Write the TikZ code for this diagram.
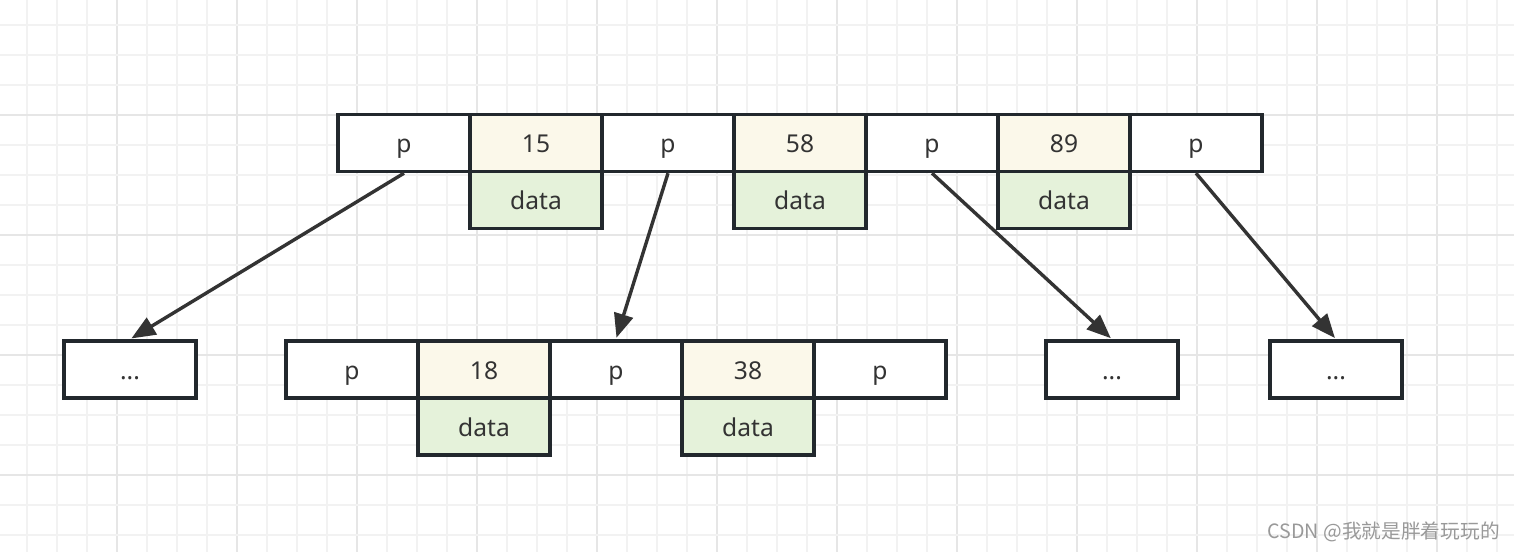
\documentclass[tikz,border=0pt]{standalone}
\usepackage{fontspec}
\setmainfont{Noto Sans}
\newfontfamily\cjkfont{Noto Sans CJK SC}
\usetikzlibrary{arrows.meta}
\definecolor{edgecol}{HTML}{22282D}
\definecolor{txtcol}{HTML}{333333}
\definecolor{keyfill}{HTML}{FBF8EA}
\definecolor{datafill}{HTML}{E5F2DA}
\definecolor{gridminor}{HTML}{F2F2F2}
\definecolor{gridmajor}{HTML}{E6E6E6}
\definecolor{arrcol}{HTML}{333333}
\definecolor{wmcol}{HTML}{999999}
\begin{document}
\begin{tikzpicture}[x=0.025cm,y=-0.025cm,
  cell/.style={draw=edgecol, line width=0.085cm, minimum width=3.3cm, minimum height=1.425cm,
    inner sep=0pt, text height=0.5cm, text depth=0.025cm, text=txtcol,
    font=\fontsize{17.5}{20}\selectfont},
  ptr/.style={cell, fill=white},
  key/.style={cell, fill=keyfill},
  dat/.style={cell, fill=datafill},
  link/.style={draw=arrcol, line width=0.085cm, -{Triangle[length=0.6cm,width=0.48cm]}, shorten >=0.04cm}]
\useasboundingbox (0,0) rectangle (1514,552);
\fill[white] (0,0) rectangle (1514,552);
% grid
\foreach \k in {0,...,49} {
  \pgfmathtruncatemacro{\xx}{27+30*\k}
  \pgfmathtruncatemacro{\mm}{mod(\k-3,4)}
  \ifnum\mm=0 \draw[gridmajor, line width=0.05cm] (\xx,0) -- (\xx,552);
  \else \draw[gridminor, line width=0.05cm] (\xx,0) -- (\xx,552); \fi
}
\foreach \k in {0,...,17} {
  \pgfmathtruncatemacro{\yy}{25+30*\k}
  \pgfmathtruncatemacro{\mm}{mod(\k-3,4)}
  \ifnum\mm=0 \draw[gridmajor, line width=0.05cm] (0,\yy) -- (1514,\yy);
  \else \draw[gridminor, line width=0.05cm] (0,\yy) -- (1514,\yy); \fi
}
% top node
\node[ptr] (tp1) at (404,143) {p};
\node[key] (tk1) at (536,143) {15};
\node[ptr] (tp2) at (668,143) {p};
\node[key] (tk2) at (800,143) {58};
\node[ptr] (tp3) at (932,143) {p};
\node[key] (tk3) at (1064,143) {89};
\node[ptr] (tp4) at (1196,143) {p};
\node[dat] (td1) at (536,200) {data};
\node[dat] (td2) at (800,200) {data};
\node[dat] (td3) at (1064,200) {data};
% bottom row
\node[ptr] (e1) at (130,369.5) {...};
\node[ptr] (mp1) at (352,369.5) {p};
\node[key] (mk1) at (484,369.5) {18};
\node[ptr] (mp2) at (616,369.5) {p};
\node[key] (mk2) at (748,369.5) {38};
\node[ptr] (mp3) at (880,369.5) {p};
\node[dat] (md1) at (484,426.5) {data};
\node[dat] (md2) at (748,426.5) {data};
\node[ptr] (e2) at (1112,369.5) {...};
\node[ptr] (e3) at (1336,369.5) {...};
% arrows
\draw[link] (tp1.south) -- (e1.north);
\draw[link] (tp2.south) -- (mp2.north);
\draw[link] (tp3.south) -- (e2.north);
\draw[link] (tp4.south) -- (e3.north);
% watermark
\node[anchor=east, text=wmcol, inner sep=0pt, font=\cjkfont\fontsize{14}{16}\selectfont] (wm) at (1500,532) {CSDN @我就是胖着玩玩的};
\end{tikzpicture}
\end{document}
